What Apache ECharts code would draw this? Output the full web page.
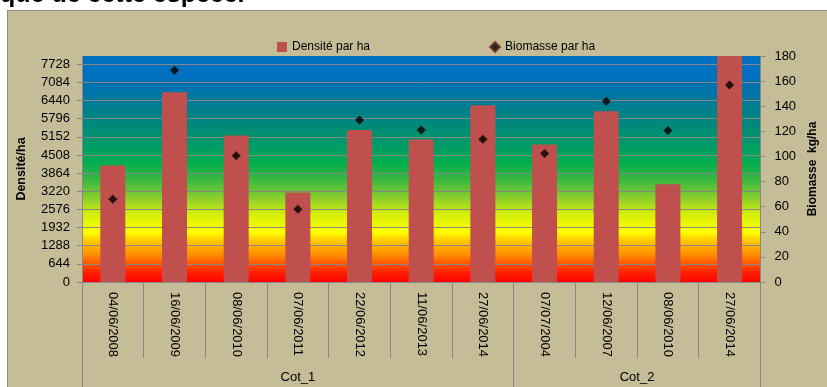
<!DOCTYPE html>
<html>
<head>
<meta charset="utf-8">
<script src="https://cdn.jsdelivr.net/npm/echarts@6/dist/echarts.min.js"></script>
<style>
html,body{margin:0;padding:0;background:#fff;overflow:hidden;}
#frame{position:absolute;left:7px;top:10px;width:840px;height:400px;background:#C4BD97;border:1px solid #8C8C8C;box-sizing:border-box;}
#chart{position:absolute;left:0;top:0;width:827px;height:387px;}
</style>
</head>
<body>
<div id="frame"></div>
<div id="chart"></div>
<script>
// ---- data ----
const dates = ['04/06/2008','16/06/2009','08/06/2010','07/06/2011','22/06/2012','11/06/2013','27/06/2014','07/07/2004','12/06/2007','08/06/2010','27/06/2014'];
const densite = [4137, 6731, 5203, 3177, 5391, 5061, 6269, 4883, 6056, 3472, 8400];
const biomasse = [66, 168.6, 100.6, 58, 129, 121, 113.6, 102.4, 144, 120.6, 157];
const groupNames = ['Cot_1', 'Cot_2'];
const groupSizes = [7, 4];
const densiteTickStep = 644;
const densiteMax = 8020;
const biomasseTickStep = 20;
const biomasseMax = 180;
const seriesNames = ['Densité par ha', 'Biomasse par ha'];
const axisNames = ['Densité/ha', 'Biomasse  kg/ha'];
const headText = 'que de cette espèce.';

// group axis helper (half-category resolution)
const total = groupSizes.reduce((a, b) => a + b, 0);
const groupData = [];
for (let i = 0; i <= 2 * total; i++) groupData.push('');
const groupTickIdx = [0];
let acc = 0;
groupSizes.forEach((s, k) => {
  groupData[2 * acc + s] = groupNames[k];
  acc += s;
  groupTickIdx.push(2 * acc);
});

const FONT = '"Liberation Sans", Arial, sans-serif';
const gridColor = '#888888';

const chart = echarts.init(document.getElementById('chart'), null, {renderer: 'canvas'});
const bg = new echarts.graphic.LinearGradient(0, 1, 0, 0, [
  {offset: 0.00, color: '#FF0000'},
  {offset: 0.045, color: '#FF2400'},
  {offset: 0.12, color: '#FF8C00'},
  {offset: 0.185, color: '#FFCC00'},
  {offset: 0.22, color: '#FFFF00'},
  {offset: 0.30, color: '#D4EE0C'},
  {offset: 0.37, color: '#8CCF2C'},
  {offset: 0.45, color: '#3CB840'},
  {offset: 0.53, color: '#00AE50'},
  {offset: 0.61, color: '#009A68'},
  {offset: 0.69, color: '#008A7A'},
  {offset: 0.77, color: '#007F8E'},
  {offset: 0.84, color: '#0074A8'},
  {offset: 0.92, color: '#0070C0'},
  {offset: 1.00, color: '#0070C0'}
]);

chart.setOption({
  animation: false,
  backgroundColor: 'transparent',
  textStyle: {fontFamily: FONT},
  graphic: [{
    type: 'text', x: 0, y: -17,
    style: {text: headText, font: 'bold 25px ' + FONT, fill: '#000'}
  }],
  legend: {
    left: 272, top: 36,
    itemWidth: 10, itemHeight: 10, itemGap: 119,
    textStyle: {fontFamily: FONT, fontSize: 12, color: '#000'},
    data: [{name: seriesNames[0], icon: 'rect'}, {name: seriesNames[1], icon: 'diamond'}]
  },
  grid: {
    left: 82, right: 59, top: 56, bottom: 105,
    show: true, backgroundColor: bg, borderWidth: 0
  },
  xAxis: [{
    type: 'category',
    data: dates,
    axisLine: {show: true, lineStyle: {color: gridColor}},
    axisTick: {show: true, length: 76, lineStyle: {color: gridColor}},
    axisLabel: {rotate: -90, margin: 10, fontSize: 13, color: '#000', fontFamily: FONT, interval: 0}
  }, {
    type: 'category',
    position: 'bottom',
    offset: 0,
    boundaryGap: false,
    data: groupData,
    axisLine: {show: false},
    axisTick: {show: true, length: 110, lineStyle: {color: gridColor},
      interval: (i) => groupTickIdx.indexOf(i) >= 0},
    axisLabel: {margin: 89, fontSize: 13, color: '#000', fontFamily: FONT,
      interval: (i, v) => v !== ''},
    splitLine: {show: false}
  }],
  yAxis: [{
    type: 'value',
    min: 0, max: densiteMax, interval: densiteTickStep,
    name: axisNames[0], nameLocation: 'middle', nameGap: 54, nameRotate: 90,
    nameTextStyle: {fontFamily: FONT, fontSize: 12.5, fontWeight: 'bold', color: '#000'},
    axisLine: {show: true, lineStyle: {color: gridColor}},
    axisTick: {show: true, length: 5, lineStyle: {color: gridColor}},
    axisLabel: {margin: 12, fontSize: 13, color: '#000', fontFamily: FONT, showMaxLabel: false,
      formatter: (v) => String(v)},
    splitLine: {show: true, showMaxLine: false, lineStyle: {color: gridColor, width: 1}}
  }, {
    type: 'value',
    min: 0, max: biomasseMax, interval: biomasseTickStep,
    name: axisNames[1], nameLocation: 'middle', nameGap: 46, nameRotate: 90,
    nameTextStyle: {fontFamily: FONT, fontSize: 12, fontWeight: 'bold', color: '#000'},
    axisLine: {show: true, lineStyle: {color: gridColor}},
    axisTick: {show: true, length: 5, lineStyle: {color: gridColor}},
    axisLabel: {margin: 14, fontSize: 13, color: '#000', fontFamily: FONT},
    splitLine: {show: false}
  }],
  series: [{
    name: seriesNames[0],
    type: 'bar',
    data: densite,
    barWidth: 25,
    clip: true,
    itemStyle: {color: '#C0504D'}
  }, {
    name: seriesNames[1],
    type: 'scatter',
    yAxisIndex: 1,
    data: biomasse,
    symbol: 'diamond',
    symbolSize: 9,
    itemStyle: {color: '#000', borderColor: '#7A2A28', borderWidth: 0.5}
  }]
});
</script>
</body>
</html>
